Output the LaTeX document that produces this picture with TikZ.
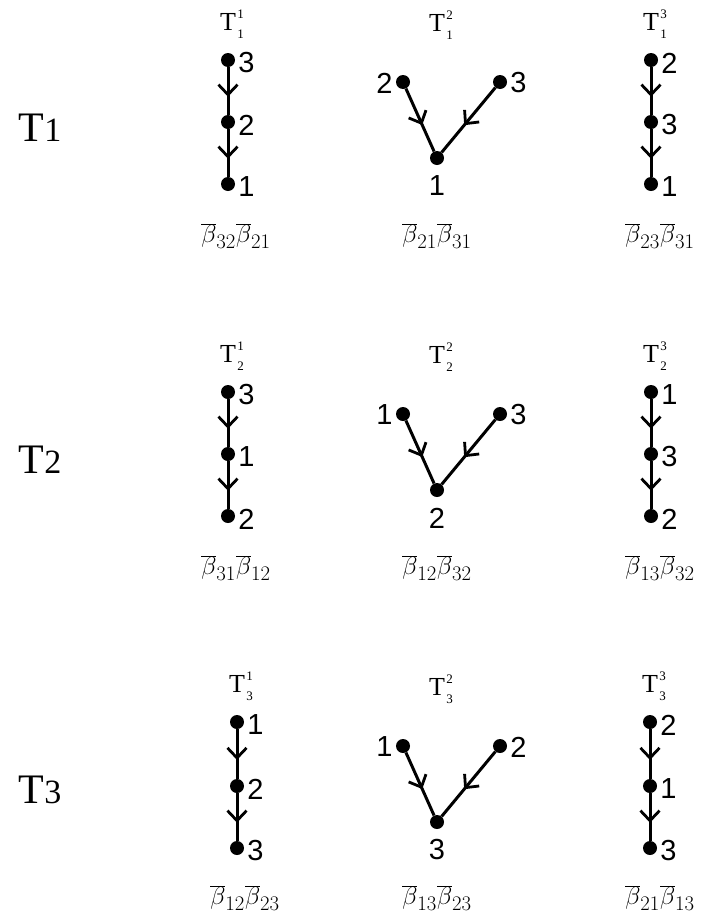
\documentclass[tikz,border=0pt]{standalone}
\usepackage{fontspec}
\setmainfont{Liberation Serif}
\newfontfamily\digitfont{Liberation Sans}
\usetikzlibrary{arrows.meta,decorations.markings}
\tikzset{
  dot/.style={circle,fill=black,inner sep=0pt,minimum size=14pt},
  edge/.style={line width=3pt,postaction={decorate},decoration={markings,mark=at position #1 with {\arrow{Straight Barb[length=10pt,width=19pt,line width=2.8pt]}}}},
  edge/.default=0.62,
  num/.style={font=\digitfont\fontsize{29}{29}\selectfont,inner sep=0pt},
  tlab/.style={font=\fontsize{26}{26}\selectfont,inner sep=0pt,anchor=base},
  blab/.style={font=\fontsize{30}{30}\selectfont,inner sep=0pt},
  rowlab/.style={font=\fontsize{42}{42}\selectfont,inner sep=0pt}
}
\newcommand\TT[2]{T\kern1.5pt\makebox[0pt][l]{\raisebox{12pt}{\fontsize{13}{13}\selectfont #2}}\raisebox{-8pt}{\fontsize{13}{13}\selectfont #1}}
\newcommand\ChainT[9]{%
  \node[dot] (#1a) at (#2,#3) {};
  \node[dot] (#1b) at (#2,#4) {};
  \node[dot] (#1c) at (#2,#5) {};
  \node[num,anchor=west] (#1la) at ([xshift=3pt,yshift=-3pt]#1a.east) {#6};
  \node[num,anchor=west] (#1lb) at ([xshift=3pt,yshift=-3pt]#1b.east) {#7};
  \node[num,anchor=west] (#1lc) at ([xshift=3pt,yshift=-3pt]#1c.east) {#8};
  \draw[edge] (#1a) -- (#1b);
  \draw[edge] (#1b) -- (#1c);
  \node[tlab] (#1t) at ([xshift=4pt,yshift=30pt]#1a.center) {#9};
}
\newcommand\VeeT[7]{%
  \node[dot] (#1l) at (403,#2) {};
  \node[dot] (#1r) at (500,#2) {};
  \node[dot] (#1b) at (437,#3) {};
  \node[num,anchor=east] (#1ll) at ([xshift=-3pt,yshift=-1pt]#1l.west) {#4};
  \node[num,anchor=west] (#1rl) at ([xshift=3pt,yshift=-1pt]#1r.east) {#5};
  \node[num] (#1bl) at ([yshift=-28pt]#1b.center) {#6};
  \draw[edge=0.58] (#1l) -- (#1b);
  \draw[edge=0.58] (#1r) -- (#1b);
  \node[tlab] (#1t) at (441,#2-51) {#7};
}
\begin{document}
\begin{tikzpicture}[x=1pt,y=-1pt]
\useasboundingbox (0,0) rectangle (703,916);
% row labels
\node[rowlab] (R1) at (40,128) {T{\fontsize{34}{34}\selectfont 1}};
\node[rowlab] (R2) at (40,460) {T{\fontsize{34}{34}\selectfont 2}};
\node[rowlab] (R3) at (40,790) {T{\fontsize{34}{34}\selectfont 3}};
% row 1
\ChainT{A}{228}{60}{122}{184}{3}{2}{1}{\TT{1}{1}}
\node[blab] (Ab) at (236,236) {$\overline{\beta}_{32}\overline{\beta}_{21}$};
\VeeT{B}{82}{158}{2}{3}{1}{\TT{1}{2}}
\node[blab] (Bb) at (437,236) {$\overline{\beta}_{21}\overline{\beta}_{31}$};
\ChainT{C}{651}{60}{122}{184}{2}{3}{1}{\TT{1}{3}}
\node[blab] (Cb) at (660,236) {$\overline{\beta}_{23}\overline{\beta}_{31}$};
% row 2
\ChainT{D}{228}{392}{454}{516}{3}{1}{2}{\TT{2}{1}}
\node[blab] (Db) at (236,568) {$\overline{\beta}_{31}\overline{\beta}_{12}$};
\VeeT{E}{414}{490}{1}{3}{2}{\TT{2}{2}}
\node[blab] (Eb) at (437,568) {$\overline{\beta}_{12}\overline{\beta}_{32}$};
\ChainT{F}{651}{392}{454}{516}{1}{3}{2}{\TT{2}{3}}
\node[blab] (Fb) at (660,568) {$\overline{\beta}_{13}\overline{\beta}_{32}$};
% row 3
\ChainT{G}{237}{722}{786}{848}{1}{2}{3}{\TT{3}{1}}
\node[blab] (Gb) at (245,898) {$\overline{\beta}_{12}\overline{\beta}_{23}$};
\VeeT{H}{746}{822}{1}{2}{3}{\TT{3}{2}}
\node[blab] (Hb) at (437,898) {$\overline{\beta}_{13}\overline{\beta}_{23}$};
\ChainT{I}{650}{722}{786}{848}{2}{1}{3}{\TT{3}{3}}
\node[blab] (Ib) at (660,898) {$\overline{\beta}_{21}\overline{\beta}_{13}$};
\end{tikzpicture}
\end{document}
